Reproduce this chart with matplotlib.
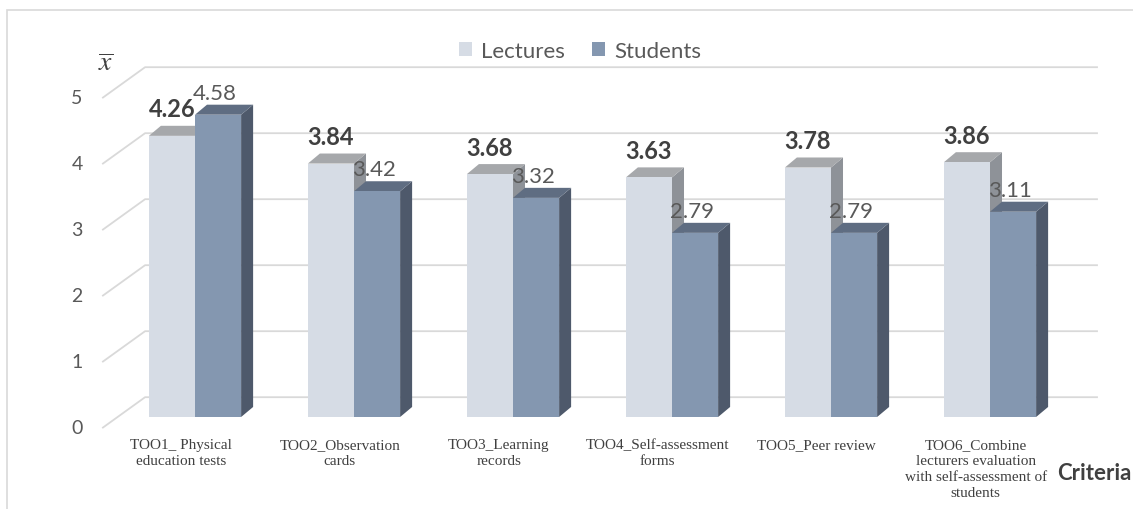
import matplotlib.pyplot as plt
from matplotlib.patches import Patch, Rectangle

# Mean scores of each assessment tool, rated by lecturers and by students
criteria = ['TOO1_ Physical\neducation tests', 'TOO2_Observation\ncards',
            'TOO3_Learning\nrecords', 'TOO4_Self-assessment\nforms',
            'TOO5_Peer review',
            'TOO6_Combine\nlecturers evaluation\nwith self-assessment of\nstudents']
lectures = [4.26, 3.84, 3.68, 3.63, 3.78, 3.86]
students = [4.58, 3.42, 3.32, 2.79, 2.79, 3.11]
yticks = [0, 1, 2, 3, 4, 5]

plt.rcParams['font.family'] = ['Lato', 'DejaVu Sans']

fig = plt.figure(figsize=(11.33, 5.1), dpi=100)
ax = fig.add_axes([0, 0, 1, 1])
ax.set_xlim(-195 / 159, (1133 - 195) / 159)
ax.set_ylim((418 - 510) / 66, 418 / 66)
ax.axis('off')

# outer chart border (left and top edges visible)
fig.patches.append(Rectangle((7 / 1133, -0.1), 1.2, (510 - 11) / 510 + 0.1,
                             transform=fig.transFigure, fill=False,
                             edgecolor='#d9d9d9', lw=1.2))

# pseudo-3D walls: back gridlines plus the slanted front edge
back_dy = 0.30
front_dy = -0.16
wall_left, wall_front, wall_right = -0.314, -0.579, 5.673
for v in yticks:
    ax.plot([wall_front, wall_left, wall_right],
            [v + front_dy, v + back_dy, v + back_dy],
            color='#d9d9d9', lw=1.3, zorder=1)
    ax.text(-0.742, v + front_dy, str(v), ha='center', va='center',
            fontsize=14, color='#595959')

ax.text(-0.56, 5.38, r'$\overline{x}$', ha='center', va='center',
        fontsize=20, color='#404040', math_fontfamily='stix')

width = 0.29
dx, dy = 0.0755, 0.152

styles = [
    dict(front='#d6dce5', top='#a6a8ab', side='#8e9298'),
    dict(front='#8497b0', top='#5f6d82', side='#4e596b'),
]


def draw_bar(x0, h, st, z):
    x1 = x0 + width
    ax.fill([x1, x1 + dx, x1 + dx, x1], [0, dy, h + dy, h],
            color=st['side'], lw=0, zorder=z)
    ax.fill([x0, x0 + dx, x1 + dx, x1], [h, h + dy, h + dy, h],
            color=st['top'], lw=0, zorder=z)
    ax.bar(x0, h, width=width, align='edge', color=st['front'],
           lw=0, zorder=z)


for i in range(len(criteria)):
    draw_bar(i - width, lectures[i], styles[0], 2 + i * 2)
    draw_bar(i, students[i], styles[1], 3 + i * 2)
    ax.text(i - width / 2, lectures[i] + 0.41, f'{lectures[i]:.2f}',
            ha='center', va='center', fontsize=17, fontweight='bold',
            color='#404040', zorder=20)
    ax.text(i + width / 2 - 0.02, students[i] + 0.33, f'{students[i]:.2f}',
            ha='center', va='center', fontsize=16, color='#595959', zorder=20)
    ax.text(i - 0.09, -0.32, criteria[i], ha='center', va='top',
            fontsize=11, family='Liberation Serif', color='#404040',
            linespacing=1.3)

ax.text(1094 / 159 - 195 / 159, (418 - 474) / 66, 'Criteria', ha='center',
        va='center', fontsize=16, fontweight='bold', color='#404040')

handles = [Patch(facecolor=styles[0]['front'], label='Lectures'),
           Patch(facecolor=styles[1]['front'], label='Students')]
fig.legend(handles=handles, loc='center', bbox_to_anchor=(580 / 1133, 1 - 52 / 510),
           ncol=2, frameon=False, fontsize=16, labelcolor='#595959',
           handlelength=0.6, handleheight=0.6, handletextpad=0.4,
           columnspacing=1.2)

fig.savefig('out.png', dpi=100)
